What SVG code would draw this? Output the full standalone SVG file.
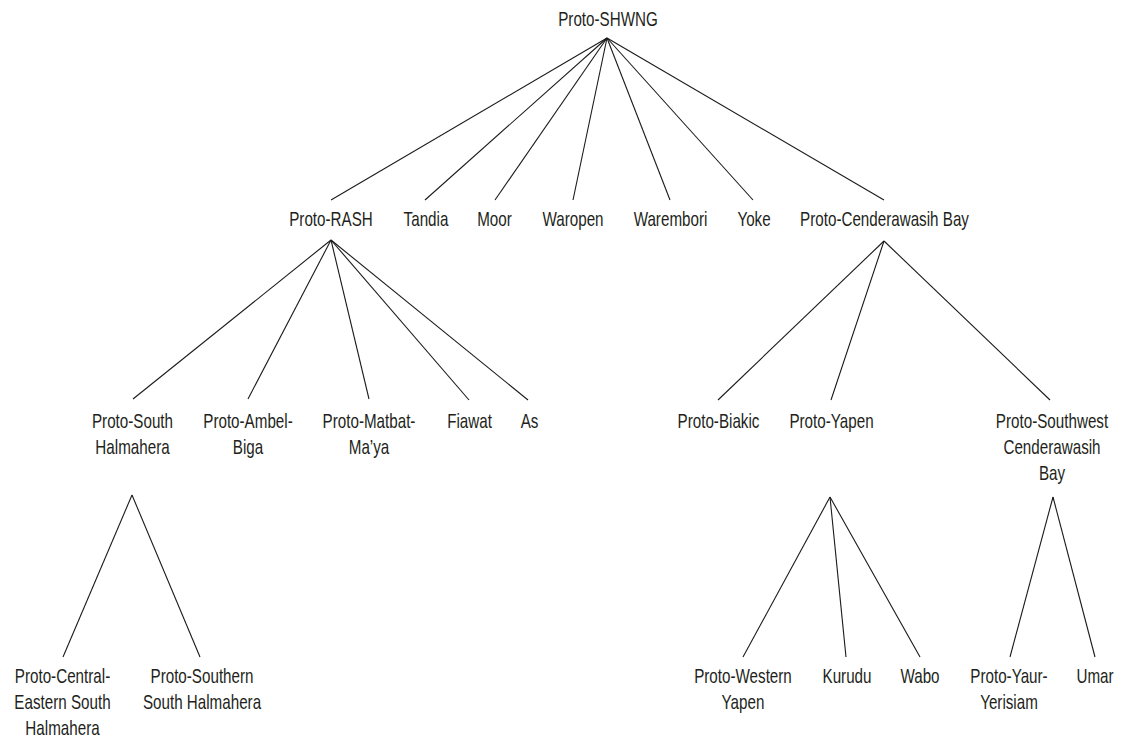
<svg xmlns="http://www.w3.org/2000/svg" width="1123" height="738" viewBox="0 0 1123 738">
<style>
  .t { font-family: "Liberation Sans", Arial, sans-serif; font-size: 20px; fill: #231f20; text-anchor: middle; }
  .c line { stroke: #1a1a1a; stroke-width: 1.1; fill: none; }
</style>
<rect width="1123" height="738" fill="#ffffff"/>
<g id="connectors" class="c">
  <line x1="607" y1="38" x2="331" y2="200"/>
  <line x1="607" y1="38" x2="425" y2="200"/>
  <line x1="607" y1="38" x2="495" y2="200"/>
  <line x1="607" y1="38" x2="573" y2="200"/>
  <line x1="607" y1="38" x2="670" y2="200"/>
  <line x1="607" y1="38" x2="753" y2="200"/>
  <line x1="607" y1="38" x2="884" y2="200"/>
  <line x1="331" y1="240" x2="133" y2="399"/>
  <line x1="331" y1="240" x2="248" y2="399"/>
  <line x1="331" y1="240" x2="369" y2="399"/>
  <line x1="331" y1="240" x2="469" y2="400"/>
  <line x1="331" y1="240" x2="528" y2="400"/>
  <line x1="884" y1="241" x2="718" y2="400"/>
  <line x1="884" y1="241" x2="831" y2="400"/>
  <line x1="884" y1="241" x2="1050" y2="400"/>
  <line x1="132" y1="495" x2="63" y2="657"/>
  <line x1="132" y1="495" x2="200" y2="657"/>
  <line x1="830" y1="497" x2="743" y2="657"/>
  <line x1="830" y1="497" x2="846" y2="657"/>
  <line x1="830" y1="497" x2="920" y2="657"/>
  <line x1="1053" y1="497" x2="1010" y2="657"/>
  <line x1="1053" y1="497" x2="1095" y2="657"/>
</g>
<g id="n-root"><text class="t" transform="translate(608,26) scale(0.76,1)">Proto-SHWNG</text></g>
<g id="n-rash"><text class="t" transform="translate(331,226) scale(0.76,1)">Proto-RASH</text></g>
<g id="n-tandia"><text class="t" transform="translate(426,226) scale(0.76,1)">Tandia</text></g>
<g id="n-moor"><text class="t" transform="translate(494.5,226) scale(0.76,1)">Moor</text></g>
<g id="n-waropen"><text class="t" transform="translate(573,226) scale(0.76,1)">Waropen</text></g>
<g id="n-warembori"><text class="t" transform="translate(670.5,226) scale(0.76,1)">Warembori</text></g>
<g id="n-yoke"><text class="t" transform="translate(754,226) scale(0.76,1)">Yoke</text></g>
<g id="n-cbay"><text class="t" transform="translate(884.5,226) scale(0.76,1)">Proto-Cenderawasih Bay</text></g>
<g id="n-southhal"><text class="t" transform="translate(132.5,428) scale(0.76,1)"><tspan x="0" y="0">Proto-South</tspan><tspan x="0" y="26">Halmahera</tspan></text></g>
<g id="n-ambel"><text class="t" transform="translate(248,428) scale(0.76,1)"><tspan x="0" y="0">Proto-Ambel-</tspan><tspan x="0" y="26">Biga</tspan></text></g>
<g id="n-matbat"><text class="t" transform="translate(369,428) scale(0.76,1)"><tspan x="0" y="0">Proto-Matbat-</tspan><tspan x="0" y="26">Ma’ya</tspan></text></g>
<g id="n-fiawat"><text class="t" transform="translate(469.5,428) scale(0.76,1)">Fiawat</text></g>
<g id="n-as"><text class="t" transform="translate(529.5,428) scale(0.76,1)">As</text></g>
<g id="n-biakic"><text class="t" transform="translate(718.5,428) scale(0.76,1)">Proto-Biakic</text></g>
<g id="n-yapen"><text class="t" transform="translate(831.5,428) scale(0.76,1)">Proto-Yapen</text></g>
<g id="n-swcb"><text class="t" transform="translate(1052,428) scale(0.76,1)"><tspan x="0" y="0">Proto-Southwest</tspan><tspan x="0" y="26">Cenderawasih</tspan><tspan x="0" y="52">Bay</tspan></text></g>
<g id="n-ceshal"><text class="t" transform="translate(62.5,683) scale(0.76,1)"><tspan x="0" y="0">Proto-Central-</tspan><tspan x="0" y="26">Eastern South</tspan><tspan x="0" y="52">Halmahera</tspan></text></g>
<g id="n-sshal"><text class="t" transform="translate(202,683) scale(0.76,1)"><tspan x="0" y="0">Proto-Southern</tspan><tspan x="0" y="26">South Halmahera</tspan></text></g>
<g id="n-wyapen"><text class="t" transform="translate(743,683) scale(0.76,1)"><tspan x="0" y="0">Proto-Western</tspan><tspan x="0" y="26">Yapen</tspan></text></g>
<g id="n-kurudu"><text class="t" transform="translate(847,683) scale(0.76,1)">Kurudu</text></g>
<g id="n-wabo"><text class="t" transform="translate(920,683) scale(0.76,1)">Wabo</text></g>
<g id="n-yaur"><text class="t" transform="translate(1009,683) scale(0.76,1)"><tspan x="0" y="0">Proto-Yaur-</tspan><tspan x="0" y="26">Yerisiam</tspan></text></g>
<g id="n-umar"><text class="t" transform="translate(1095,683) scale(0.76,1)">Umar</text></g>
</svg>
